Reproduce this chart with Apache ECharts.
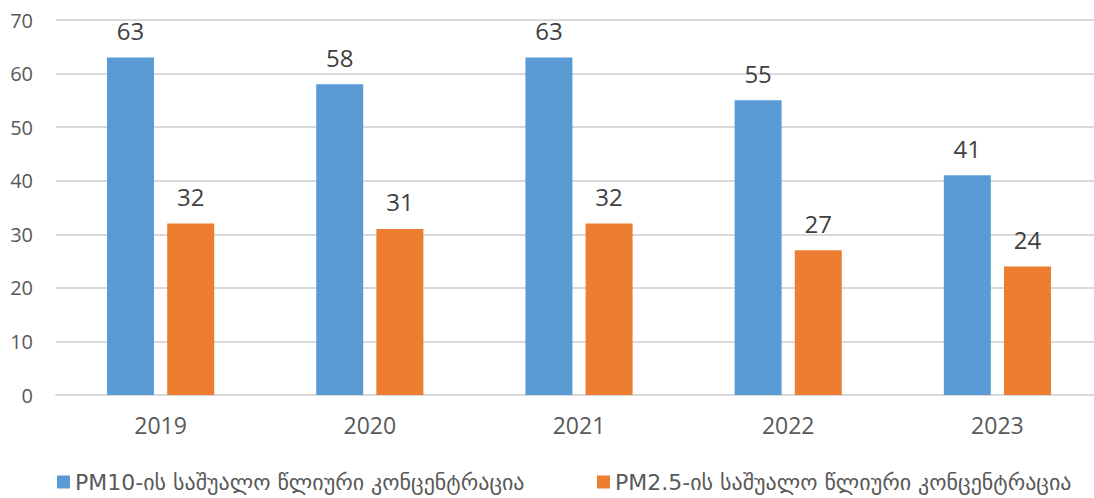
<!DOCTYPE html>
<html>
<head>
<meta charset="utf-8">
<script src="https://cdn.jsdelivr.net/npm/echarts@6/dist/echarts.min.js"></script>
<style>
  html, body { margin: 0; padding: 0; background: #fff; }
  #chart { width: 1094px; height: 498px; }
</style>
</head>
<body>
<div id="chart"></div>
<script>
var years = ['2019', '2020', '2021', '2022', '2023'];
var pm10 = [63, 58, 63, 55, 41];
var pm25 = [32, 31, 32, 27, 24];
var seriesNames = [
  'PM10-ის საშუალო წლიური კონცენტრაცია',
  'PM2.5-ის საშუალო წლიური კონცენტრაცია'
];

var numFont = '"Open Sans", sans-serif';
var geoFont = '"DejaVu Sans", sans-serif';
var legendBase = {
  top: 466,
  itemWidth: 13,
  itemHeight: 13,
  itemGap: 5,
  icon: 'rect',
  textStyle: { color: '#595959', fontSize: 22, fontFamily: geoFont }
};

var chart = echarts.init(document.getElementById('chart'), null, { renderer: 'svg' });
chart.setOption({
  animation: false,
  textStyle: { fontFamily: numFont },
  grid: { left: 56, top: 20, width: 1046, height: 375, outerBoundsMode: 'none' },
  legend: [
    Object.assign({ data: [seriesNames[0]], left: 52 }, legendBase),
    Object.assign({ data: [seriesNames[1]], left: 592 }, legendBase)
  ],
  xAxis: {
    type: 'category',
    data: years,
    axisLine: { lineStyle: { color: '#d9d9d9', width: 2 } },
    axisTick: { show: false },
    axisLabel: { color: '#595959', fontSize: 23, margin: 18, fontFamily: numFont }
  },
  yAxis: {
    type: 'value',
    min: 0,
    max: 70,
    interval: 10,
    axisLine: { show: false },
    axisTick: { show: false },
    axisLabel: { color: '#595959', fontSize: 20, margin: 23, fontFamily: numFont },
    splitLine: { lineStyle: { color: '#d9d9d9', width: 2 } }
  },
  series: [
    {
      name: seriesNames[0],
      type: 'bar',
      data: pm10,
      barWidth: 47,
      barGap: '28%',
      itemStyle: { color: '#5b9bd5' },
      label: { show: true, position: 'top', distance: 15, color: '#404040', fontSize: 24, fontFamily: numFont }
    },
    {
      name: seriesNames[1],
      type: 'bar',
      data: pm25,
      barWidth: 47,
      itemStyle: { color: '#ed7d31' },
      label: { show: true, position: 'top', distance: 15, color: '#404040', fontSize: 24, fontFamily: numFont }
    }
  ]
});
</script>
</body>
</html>
